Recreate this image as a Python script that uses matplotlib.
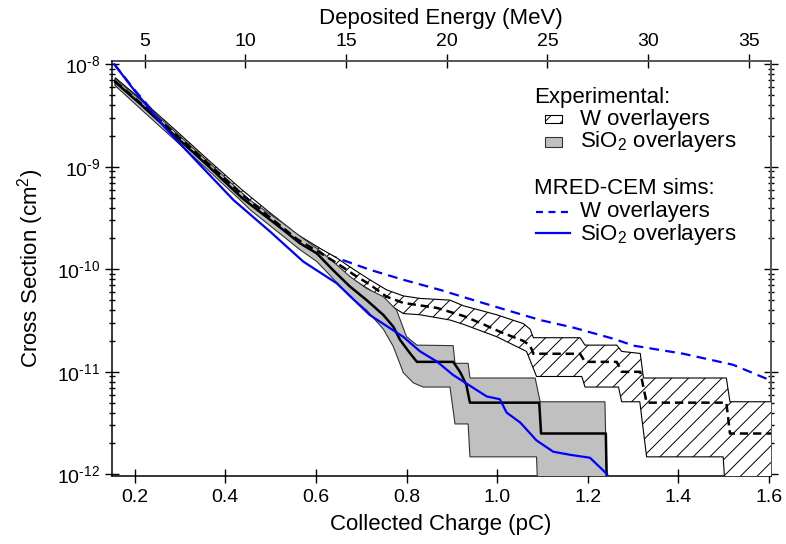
import matplotlib
matplotlib.use("Agg")
import matplotlib.pyplot as plt
from matplotlib.patches import Rectangle
from matplotlib.lines import Line2D
from matplotlib.ticker import LogLocator, FixedLocator, NullFormatter, FixedFormatter, NullLocator

plt.rcParams['font.family'] = ['Liberation Sans', 'DejaVu Sans']
plt.rcParams['mathtext.fontset'] = 'custom'
plt.rcParams['mathtext.rm'] = 'Liberation Sans'
plt.rcParams['mathtext.it'] = 'Liberation Sans:italic'
plt.rcParams['mathtext.bf'] = 'Liberation Sans:bold'
plt.rcParams['hatch.linewidth'] = 0.7
plt.rcParams['lines.scale_dashes'] = False

# Charge-to-energy conversion for silicon (3.6 eV per e-h pair)
MEV_PER_PC = 22.5

# ---- MRED-CEM simulations (cross section, cm^2) ----
sim_sio2_q = [0.155, 0.20, 0.268, 0.35, 0.418, 0.499, 0.572, 0.646, 0.719, 0.793,
              0.830, 0.867, 0.903, 0.977, 1.006, 1.021, 1.051, 1.087, 1.124, 1.161,
              1.205, 1.227, 1.243, 1.244]
sim_sio2_xs = [1.0e-8, 5.5e-9, 2.38e-9, 9.8e-10, 4.74e-10, 2.33e-10, 1.19e-10, 7.3e-11,
               3.58e-11, 2.19e-11, 1.58e-11, 1.26e-11, 9.3e-12, 5.75e-12, 5.4e-12, 4.0e-12,
               3.2e-12, 2.14e-12, 1.66e-12, 1.55e-12, 1.45e-12, 1.17e-12, 1.0e-12, 5e-13]

sim_w_q = [0.155, 0.20, 0.268, 0.35, 0.43, 0.50, 0.565, 0.638, 0.719, 0.793, 0.874,
           0.948, 1.021, 1.095, 1.168, 1.257, 1.301, 1.411, 1.521, 1.602]
sim_w_xs = [1.0e-8, 5.6e-9, 2.5e-9, 1.17e-9, 6.0e-10, 3.4e-10, 2.0e-10, 1.33e-10, 9.9e-11,
            7.9e-11, 6.3e-11, 5.0e-11, 4.0e-11, 3.2e-11, 2.7e-11, 2.1e-11, 1.8e-11,
            1.5e-11, 1.17e-11, 8.3e-12]

# ---- Experimental, SiO2 overlayers ----
exp_sio2_q = [0.157, 0.215, 0.289, 0.362, 0.436, 0.455, 0.528, 0.565, 0.602, 0.638, 0.675,
              0.712, 0.749, 0.771, 0.786, 0.808, 0.823, 0.903, 0.918, 0.932, 0.940, 1.093,
              1.097, 1.240, 1.243]
exp_sio2_xs = [6.7e-9, 4.0e-9, 2.0e-9, 1.02e-9, 5.0e-10, 4.3e-10, 2.42e-10, 1.79e-10,
               1.43e-10, 9.8e-11, 6.8e-11, 5.0e-11, 3.58e-11, 2.75e-11, 2.04e-11, 1.51e-11,
               1.25e-11, 1.25e-11, 1.0e-11, 7.5e-12, 5.0e-12, 5.0e-12, 2.5e-12, 2.5e-12, 5e-13]

sio2_hi_q = [0.157, 0.215, 0.289, 0.362, 0.436, 0.455, 0.528, 0.565, 0.602, 0.638, 0.675,
             0.712, 0.749, 0.778, 0.800, 0.823, 0.903, 0.907, 0.936, 0.940, 1.084, 1.095,
             1.238, 1.243]
sio2_hi_xs = [7.2e-9, 4.4e-9, 2.2e-9, 1.12e-9, 5.6e-10, 4.7e-10, 2.8e-10, 2.1e-10, 1.6e-10,
              1.19e-10, 8.5e-11, 6.5e-11, 5.4e-11, 4.0e-11, 2.2e-11, 1.82e-11, 1.8e-11,
              1.21e-11, 1.21e-11, 8.7e-12, 8.7e-12, 5.1e-12, 5.1e-12, 5e-13]

sio2_lo_q = [0.157, 0.215, 0.289, 0.362, 0.436, 0.455, 0.528, 0.565, 0.602, 0.638, 0.675,
             0.712, 0.749, 0.771, 0.793, 0.815, 0.837, 0.896, 0.907, 0.936, 0.940, 1.087,
             1.091, 1.243]
sio2_lo_xs = [6.2e-9, 3.6e-9, 1.82e-9, 9.3e-10, 4.6e-10, 3.8e-10, 2.1e-10, 1.55e-10,
              1.19e-10, 8.1e-11, 5.4e-11, 4.0e-11, 2.6e-11, 1.76e-11, 9.8e-12, 7.8e-12,
              7.1e-12, 7.1e-12, 3.1e-12, 3.1e-12, 1.48e-12, 1.48e-12, 5e-13, 5e-13]

# ---- Experimental, W overlayers ----
exp_w_q = [0.157, 0.215, 0.289, 0.362, 0.436, 0.499, 0.558, 0.609, 0.646, 0.683, 0.719,
           0.756, 0.793, 0.867, 0.926, 0.970, 1.007, 1.058, 1.073, 1.080, 1.183, 1.194,
           1.264, 1.275, 1.316, 1.330, 1.506, 1.514, 1.61]
exp_w_xs = [6.8e-9, 4.1e-9, 2.1e-9, 1.07e-9, 5.4e-10, 3.2e-10, 1.97e-10, 1.45e-10, 1.15e-10,
            8.9e-11, 7.1e-11, 5.4e-11, 4.7e-11, 4.2e-11, 3.5e-11, 2.9e-11, 2.45e-11, 2.0e-11,
            1.8e-11, 1.5e-11, 1.5e-11, 1.25e-11, 1.25e-11, 1.0e-11, 1.0e-11, 5.0e-12,
            5.0e-12, 2.5e-12, 2.5e-12]

w_hi_q = [0.157, 0.215, 0.289, 0.362, 0.436, 0.499, 0.558, 0.609, 0.646, 0.683, 0.719,
          0.756, 0.793, 0.830, 0.896, 0.926, 0.999, 1.058, 1.073, 1.080, 1.183, 1.194,
          1.264, 1.275, 1.316, 1.323, 1.506, 1.514, 1.61]
w_hi_xs = [7.4e-9, 4.5e-9, 2.3e-9, 1.17e-9, 6.0e-10, 3.55e-10, 2.2e-10, 1.6e-10, 1.29e-10,
           1.0e-10, 7.9e-11, 6.3e-11, 5.5e-11, 5.2e-11, 5.0e-11, 4.4e-11, 3.6e-11, 2.95e-11,
           2.6e-11, 2.15e-11, 2.15e-11, 1.82e-11, 1.82e-11, 1.58e-11, 1.51e-11, 8.7e-12,
           8.7e-12, 5.1e-12, 5.1e-12]

w_lo_q = [0.157, 0.215, 0.289, 0.362, 0.436, 0.499, 0.558, 0.609, 0.646, 0.683, 0.719,
          0.756, 0.793, 0.830, 0.896, 0.926, 0.999, 1.065, 1.087, 1.187, 1.194, 1.268,
          1.275, 1.315, 1.330, 1.499, 1.506, 1.61]
w_lo_xs = [6.2e-9, 3.7e-9, 1.9e-9, 9.8e-10, 4.9e-10, 2.9e-10, 1.78e-10, 1.32e-10, 1.02e-10,
           7.9e-11, 6.3e-11, 4.7e-11, 3.7e-11, 3.6e-11, 3.2e-11, 2.9e-11, 2.2e-11, 1.58e-11,
           9.0e-12, 9.0e-12, 7.1e-12, 7.1e-12, 5.1e-12, 5.1e-12, 1.48e-12, 1.48e-12, 5e-13,
           5e-13]

# ---- Axis ticks ----
charge_ticks = [0.2, 0.4, 0.6, 0.8, 1.0, 1.2, 1.4, 1.6]
charge_labels = ['0.2', '0.4', '0.6', '0.8', '1.0', '1.2', '1.4', '1.6']
energy_ticks = [5, 10, 15, 20, 25, 30, 35]
xs_ticks = [1e-12, 1e-11, 1e-10, 1e-9, 1e-8]
xs_labels = [r'$10^{\text{-12}}$', r'$10^{\text{-11}}$', r'$10^{\text{-10}}$',
             r'$10^{\text{-9}}$', r'$10^{\text{-8}}$']

BLUE = '#0000ff'
GRAY = '#c0c0c0'
AXGRAY = '#555555'

fig = plt.figure(figsize=(7.86, 5.44), dpi=100)
ax = fig.add_axes([0.14211, 0.125, 0.83817, 0.76287])
ax.set_yscale('log')
ax.set_xlim(0.1492, 1.6035)
ax.set_ylim(10 ** -12.0166, 10 ** -7.968)


def band(q_hi, xs_hi, q_lo, xs_lo):
    return list(q_hi) + list(q_lo)[::-1], list(xs_hi) + list(xs_lo)[::-1]


# simulation, W (drawn beneath the experimental bands)
ax.plot(sim_w_q, sim_w_xs, color=BLUE, lw=1.6, dashes=(7, 4.5), zorder=2)

# experimental uncertainty bands
bx, by = band(w_hi_q, w_hi_xs, w_lo_q, w_lo_xs)
ax.fill(bx, by, facecolor='white', edgecolor='black', hatch='//', lw=0.8, zorder=3)
gx, gy = band(sio2_hi_q, sio2_hi_xs, sio2_lo_q, sio2_lo_xs)
ax.fill(gx, gy, facecolor=GRAY, edgecolor='#333333', lw=0.8, zorder=4)

# experimental median curves
ax.plot(exp_w_q, exp_w_xs, color='black', lw=1.8, dashes=(6, 3.5), zorder=5)
ax.plot(exp_sio2_q, exp_sio2_xs, color='black', lw=1.8, zorder=5)

# simulation, SiO2
ax.plot(sim_sio2_q, sim_sio2_xs, color=BLUE, lw=1.6, zorder=6)

# ---- axes styling ----
for side in ('left', 'bottom'):
    ax.spines[side].set_color('black')
    ax.spines[side].set_linewidth(1.1)
ax.spines['right'].set_color(AXGRAY)
ax.spines['right'].set_linewidth(1.4)
ax.spines['top'].set_visible(False)

ax.xaxis.set_major_locator(FixedLocator(charge_ticks))
ax.xaxis.set_major_formatter(FixedFormatter(charge_labels))
ax.xaxis.set_minor_locator(NullLocator())
ax.yaxis.set_major_locator(FixedLocator(xs_ticks))
ax.yaxis.set_major_formatter(FixedFormatter(xs_labels))
ax.yaxis.set_minor_locator(LogLocator(base=10, subs=range(2, 10), numticks=20))
ax.yaxis.set_minor_formatter(NullFormatter())

ax.tick_params(axis='both', which='major', direction='inout', length=10.5, width=1,
               labelsize=14, top=False, right=True, labelright=False, pad=3)
ax.tick_params(axis='y', which='minor', direction='inout', length=5, width=1,
               right=True, left=True)
ax.tick_params(axis='x', which='major', pad=4)

ax.set_xlabel('Collected Charge (pC)', fontsize=16, labelpad=6)
ax.set_ylabel('Cross Section (cm$^2$)', fontsize=16, labelpad=8)

secax = ax.secondary_xaxis('top', functions=(lambda q: q * MEV_PER_PC,
                                             lambda e: e / MEV_PER_PC))
secax.xaxis.set_major_locator(FixedLocator(energy_ticks))
secax.xaxis.set_minor_locator(NullLocator())
secax.tick_params(direction='inout', length=10.5, width=1, labelsize=14, pad=3)
secax.spines['top'].set_color(AXGRAY)
secax.spines['top'].set_linewidth(1.4)
secax.set_xlabel('Deposited Energy (MeV)', fontsize=16, labelpad=6)

# ---- legend ----
tr = ax.transAxes
ax.text(0.6415, 0.898, 'Experimental:', transform=tr, fontsize=16, va='baseline')
ax.add_patch(Rectangle((0.658, 0.850), 0.0253, 0.019, transform=tr, facecolor='white',
                       edgecolor='black', hatch='//', lw=0.8, zorder=7))
ax.text(0.7109, 0.8458, 'W overlayers', transform=tr, fontsize=16, va='baseline')
ax.add_patch(Rectangle((0.658, 0.792), 0.0258, 0.0255, transform=tr, facecolor=GRAY,
                       edgecolor='#333333', lw=0.8, zorder=7))
ax.text(0.7109, 0.792, 'SiO$_2$ overlayers', transform=tr, fontsize=16, va='baseline')

ax.text(0.6415, 0.6795, 'MRED-CEM sims:', transform=tr, fontsize=16, va='baseline')
ax.add_line(Line2D([0.6441, 0.6957], [0.6369, 0.6369], transform=tr, color=BLUE, lw=1.6,
                   dashes=(5, 4)))
ax.text(0.7109, 0.6234, 'W overlayers', transform=tr, fontsize=16, va='baseline')
ax.add_line(Line2D([0.6441, 0.6957], [0.5848, 0.5848], transform=tr, color=BLUE, lw=1.6))
ax.text(0.7109, 0.5687, 'SiO$_2$ overlayers', transform=tr, fontsize=16, va='baseline')

fig.savefig('out.png', dpi=100)
